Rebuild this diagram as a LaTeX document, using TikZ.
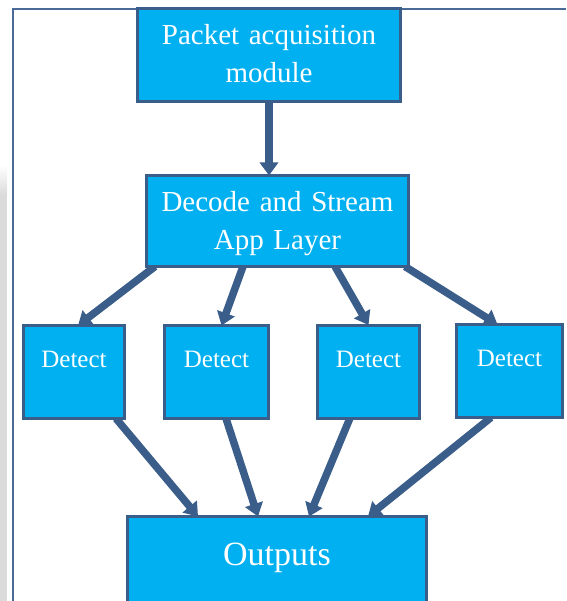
\documentclass[tikz,border=0pt]{standalone}
\usepackage{fontspec}
\setmainfont{Liberation Serif}
\usetikzlibrary{arrows.meta,calc,backgrounds}
\definecolor{boxfill}{HTML}{00B0F0}
\definecolor{boxline}{HTML}{3A5D8A}
\definecolor{framec}{HTML}{4A6A98}
\begin{document}
\begin{tikzpicture}[x=1pt,y=-1pt,
  box/.style={draw=boxline, line width=3pt, fill=boxfill, text=white,
    inner sep=0pt, outer sep=0pt, align=center, anchor=north west},
  bigtext/.style={font=\fontsize{29}{37.5}\selectfont},
  dettext/.style={font=\fontsize{25}{30}\selectfont},
  outtext/.style={font=\fontsize{34}{40}\selectfont},
  conn/.style={draw=boxline, line width=7.5pt, -{Triangle[width=18pt,length=13pt]}}]
\useasboundingbox (0,0) rectangle (566,601);
% page decorations
\shade[top color=white, bottom color=gray!28] (0,165) rectangle (7,195);
\fill[gray!28] (0,195) rectangle (7,601);
\draw[framec, line width=1.5pt] (13,601) -- (13,9) -- (566,9);
% boxes
\node[box, bigtext, text width=263pt, text height=36.5pt, text depth=56.5pt]
  (pkt) at (137.5,8.5) {Packet acquisition\\module};
\node[box, bigtext, text width=262pt, text height=36.5pt, text depth=54.5pt]
  (dec) at (146.5,175.5) {Decode and Stream\\App Layer};
\node[box, dettext, text width=101pt, text height=41.5pt, text depth=51.5pt]
  (d1) at (23.5,325.5) {Detect};
\node[box, dettext, text width=104pt, text height=41.5pt, text depth=51.5pt]
  (d2) at (164.5,325.5) {Detect};
\node[box, dettext, text width=102pt, text height=42pt, text depth=51pt]
  (d3) at (317.5,325) {Detect};
\node[box, dettext, text width=106pt, text height=42pt, text depth=51pt]
  (d4) at (456.5,324.5) {Detect};
\node[box, outtext, text width=299pt, text height=48.5pt, text depth=40pt]
  (out) at (127.5,516.5) {Outputs};
% connectors
\begin{scope}[on background layer]
\draw[conn] (pkt.south) -- (pkt.south |- dec.north);
\draw[conn] ([xshift=8.5pt]dec.south west) -- ([xshift=4pt]d1.north);
\draw[conn] ([xshift=96.5pt]dec.south west) -- ([xshift=5pt]d2.north);
\draw[conn] ([xshift=188.5pt]dec.south west) -- (d3.north);
\draw[conn] ([xshift=-3.5pt]dec.south east) -- ([xshift=-12pt]d4.north);
\draw[conn] ([xshift=-8.5pt]d1.south east) -- ([xshift=70.5pt]out.north west);
\draw[conn] ([xshift=61.5pt]d2.south west) -- ([xshift=130.5pt]out.north west);
\draw[conn] ([xshift=32.5pt]d3.south west) -- ([xshift=181.5pt]out.north west);
\draw[conn] ([xshift=34.5pt]d4.south west) -- ([xshift=240.5pt]out.north west);
\end{scope}
\end{tikzpicture}
\end{document}
